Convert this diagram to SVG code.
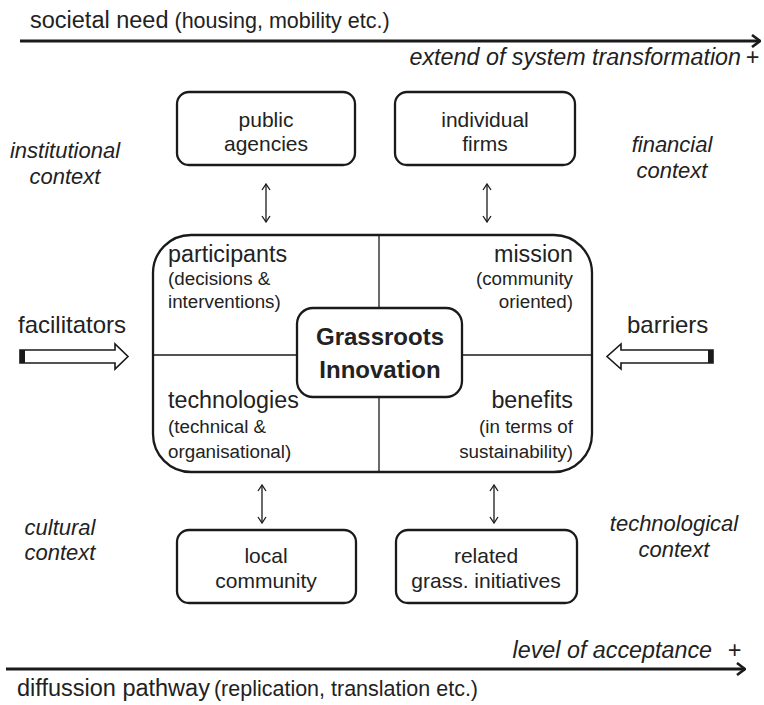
<svg xmlns="http://www.w3.org/2000/svg" width="764" height="705" viewBox="0 0 764 705">
  <style>
    text { font-family: "Liberation Sans", Arial, sans-serif; fill: #222; }
    .axisLbl { font-size: 23.5px; }
    .paren { font-size: 21.5px; }
    .big { font-size: 23.3px; }
    .small { font-size: 18.8px; }
    .box-t { font-size: 21px; }
    .force { font-size: 24px; }
    .it { font-style: italic; font-size: 23.3px; }
    .ctx { font-style: italic; font-size: 22px; }
    .c { text-anchor: middle; }
    .r { text-anchor: end; }
    .title { font-weight: bold; font-size: 24px; }
    .box { fill: #fff; stroke: #1a1a1a; stroke-width: 2.3; }
    .div { stroke: #1a1a1a; stroke-width: 1.3; fill: none; }
    .axis { stroke: #1a1a1a; stroke-width: 3; fill: none; marker-end: url(#head); }
    .link { stroke: #1a1a1a; stroke-width: 1.3; fill: none; marker-start: url(#tip); marker-end: url(#tip); }
    .block { fill: #fff; stroke: #1a1a1a; stroke-width: 1.6; stroke-linejoin: miter; }
  </style>
  <defs>
    <marker id="head" viewBox="0 0 10 14" refX="9" refY="7" markerWidth="10" markerHeight="14" markerUnits="userSpaceOnUse" orient="auto">
      <path d="M1,1 L9,7 L1,13" fill="none" stroke="#1a1a1a" stroke-width="2.6"/>
    </marker>
    <marker id="tip" viewBox="0 0 8 10" refX="7" refY="5" markerWidth="8" markerHeight="10" markerUnits="userSpaceOnUse" orient="auto-start-reverse">
      <path d="M1,1 L7,5 L1,9" fill="none" stroke="#1a1a1a" stroke-width="1.3"/>
    </marker>
  </defs>

  <!-- top axis labels -->
  <g id="axis-top">
    <text x="30" y="28"><tspan class="axisLbl">societal need</tspan><tspan class="paren" dx="6">(housing, mobility etc.)</tspan></text>
    <text class="it r" x="741" y="65">extend of system transformation</text>
    <text class="it r" x="759" y="65">+</text>
  </g>

  <!-- bottom axis labels -->
  <g id="axis-bottom">
    <text class="it r" x="712" y="658">level of acceptance</text>
    <text class="it r" x="741" y="658">+</text>
    <text x="17" y="696"><tspan class="axisLbl">diffussion pathway</tspan><tspan class="paren" dx="4">(replication, translation etc.)</tspan></text>
  </g>

  <!-- context labels -->
  <g id="ctx-institutional">
    <text class="ctx c" x="65" y="158">institutional</text>
    <text class="ctx c" x="65" y="184">context</text>
  </g>
  <g id="ctx-financial">
    <text class="ctx c" x="672" y="152">financial</text>
    <text class="ctx c" x="672" y="178">context</text>
  </g>
  <g id="ctx-cultural">
    <text class="ctx c" x="60" y="535">cultural</text>
    <text class="ctx c" x="60" y="560">context</text>
  </g>
  <g id="ctx-technological">
    <text class="ctx c" x="674" y="531">technological</text>
    <text class="ctx c" x="674" y="557">context</text>
  </g>

  <!-- actor boxes -->
  <g id="public-agencies">
    <rect class="box" x="177" y="92" width="178" height="73" rx="12"/>
    <text class="box-t c" x="266" y="127">public</text>
    <text class="box-t c" x="266" y="151">agencies</text>
  </g>
  <g id="individual-firms">
    <rect class="box" x="395" y="92" width="180" height="73" rx="12"/>
    <text class="box-t c" x="485" y="127">individual</text>
    <text class="box-t c" x="485" y="151">firms</text>
  </g>
  <g id="local-community">
    <rect class="box" x="177" y="530" width="179" height="73" rx="12"/>
    <text class="box-t c" x="266" y="563">local</text>
    <text class="box-t c" x="266" y="588">community</text>
  </g>
  <g id="related-initiatives">
    <rect class="box" x="396" y="530" width="181" height="73" rx="12"/>
    <text class="box-t c" x="486" y="563">related</text>
    <text class="box-t c" x="486" y="588">grass. initiatives</text>
  </g>

  <!-- core block with its four quadrants -->
  <g id="core">
    <rect class="box" x="153" y="235" width="439" height="237" rx="38"/>
    <line class="div" x1="379" y1="235" x2="379" y2="308"/>
    <line class="div" x1="379" y1="397" x2="379" y2="472"/>
    <line class="div" x1="153" y1="355" x2="297" y2="355"/>
    <line class="div" x1="462" y1="355" x2="592" y2="355"/>
    <text class="big" x="168" y="262">participants</text>
    <text class="small" x="168" y="285">(decisions &amp;</text>
    <text class="small" x="168" y="308">interventions)</text>
    <text class="big r" x="573" y="262">mission</text>
    <text class="small r" x="573" y="285">(community</text>
    <text class="small r" x="573" y="308">oriented)</text>
    <text class="big" x="168" y="408">technologies</text>
    <text class="small" x="168" y="433">(technical &amp;</text>
    <text class="small" x="168" y="458">organisational)</text>
    <text class="big r" x="573" y="408">benefits</text>
    <text class="small r" x="573" y="433">(in terms of</text>
    <text class="small r" x="573" y="458">sustainability)</text>
  </g>
  <g id="grassroots-innovation">
    <rect class="box" x="297" y="308" width="165" height="89" rx="16"/>
    <text class="title c" x="380" y="345">Grassroots</text>
    <text class="title c" x="380" y="378">Innovation</text>
  </g>

  <!-- pushing forces -->
  <g id="facilitators">
    <text class="force" x="18" y="333">facilitators</text>
    <polygon class="block" points="20,350 115,350 115,344 128,356.5 115,369 115,363 20,363"/>
    <rect x="20" y="350" width="5" height="13" fill="#1a1a1a"/>
  </g>
  <g id="barriers">
    <text class="force" x="627" y="333">barriers</text>
    <polygon class="block" points="713,350 621,350 621,344 607,356.5 621,369 621,363 713,363"/>
    <rect x="708" y="350" width="5" height="13" fill="#1a1a1a"/>
  </g>

  <!-- connectors -->
  <g id="connectors">
    <line class="axis" x1="20" y1="41" x2="760" y2="41"/>
    <line class="axis" x1="6" y1="669" x2="745" y2="669"/>
    <line class="link" x1="266" y1="184" x2="266" y2="222"/>
    <line class="link" x1="487" y1="184" x2="487" y2="222"/>
    <line class="link" x1="262" y1="485" x2="262" y2="523"/>
    <line class="link" x1="494" y1="485" x2="494" y2="523"/>
  </g>
</svg>
